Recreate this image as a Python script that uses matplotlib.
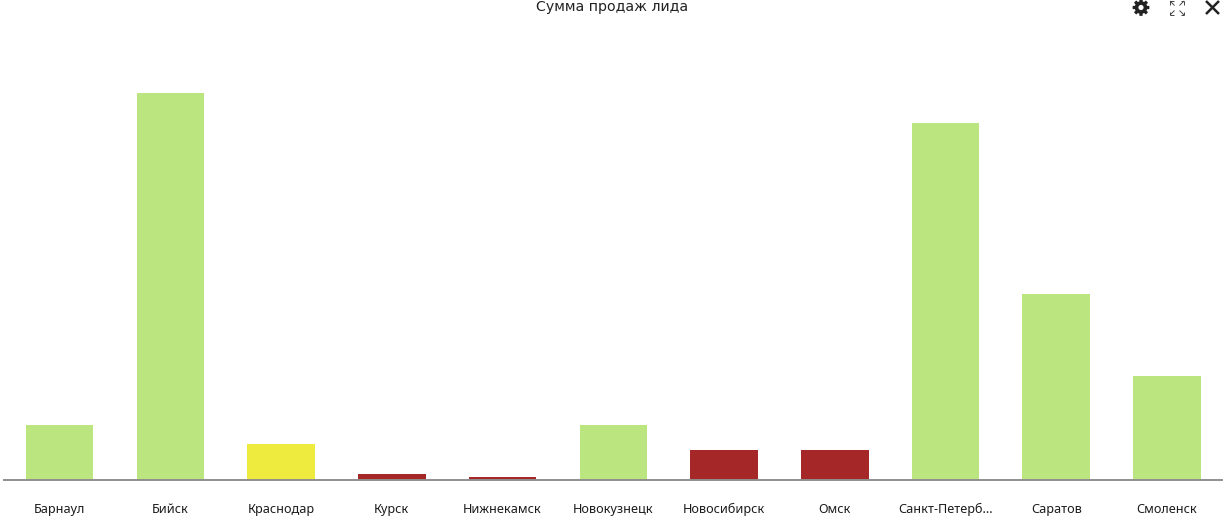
import numpy as np
import matplotlib
matplotlib.use("Agg")
import matplotlib.pyplot as plt
from matplotlib.lines import Line2D
from matplotlib.patches import Polygon, Circle

cities = ["Барнаул", "Бийск", "Краснодар", "Курск", "Нижнекамск", "Новокузнецк",
          "Новосибирск", "Омск", "Санкт-Петерб...", "Саратов", "Смоленск"]
sales = [54.5, 386.5, 35.5, 6, 3, 54.5, 30, 30, 357, 185.5, 103.5]
green = "#bbe67f"
yellow = "#eeea3e"
red = "#a52727"
bar_colors = [green, green, yellow, red, red, green, red, red, green, green, green]

W, H = 1225, 527
fig = plt.figure(figsize=(W / 100, H / 100), dpi=100)
ax = fig.add_axes([4.3 / W, 1 - 479.5 / H, 1218 / W, 479.5 / H])

ax.bar(range(len(cities)), sales, width=0.61, color=bar_colors)
ax.set_xlim(-0.5, len(cities) - 0.5)
ax.set_ylim(0, 479.5)
ax.set_yticks([])
ax.set_xticks(range(len(cities)))
ax.set_xticklabels(cities, fontsize=9.1, family="Noto Sans", color="#1c1c1c")
ax.tick_params(axis="x", length=0, pad=17)
for side in ["top", "left", "right"]:
    ax.spines[side].set_visible(False)
ax.spines["bottom"].set_color("#8f8f8f")
ax.spines["bottom"].set_linewidth(1.4)

fig.text(612.5 / W, 1 - 7 / H, "Сумма продаж лида", ha="center", va="center",
         fontsize=10.2, family="DejaVu Sans", color="#222222")

# toolbar icons in the top right corner
icon = "#222222"


def seg(x0, y0, x1, y1, lw=1.0, color=icon):
    fig.add_artist(Line2D([x0 / W, x1 / W], [1 - y0 / H, 1 - y1 / H], color=color,
                          lw=lw, solid_capstyle="butt"))


# gear: eight teeth around a ring, with a white hole
gx, gy = 1141, 7.5
ang = np.linspace(0, 2 * np.pi, 96, endpoint=False)
rad = np.where(np.cos(8 * ang) > -0.1, 8.4, 6.3)
pts = np.column_stack([(gx + rad * np.cos(ang)) / W, 1 - (gy + rad * np.sin(ang)) / H])
fig.add_artist(Polygon(pts, closed=True, facecolor=icon, edgecolor="none",
                       transform=fig.transFigure))
fig.add_artist(Circle((gx, H - gy), 2.6, facecolor="white", edgecolor="none",
                      transform=None))

# close button
seg(1206, 1, 1219, 14, 1.8)
seg(1219, 1, 1206, 14, 1.8)

# fullscreen button: four small arrows pointing outwards
for sx, sy in [(-1, -1), (1, -1), (-1, 1), (1, 1)]:
    cx, cy = 1177 + sx * 7, 8 + sy * 7
    seg(cx, cy, cx - sx * 3.5, cy, 0.7, "#444444")
    seg(cx, cy, cx, cy - sy * 3.5, 0.7, "#444444")
    seg(cx, cy, cx - sx * 4.5, cy - sy * 4.5, 0.7, "#444444")

fig.savefig("out.png", dpi=100)
